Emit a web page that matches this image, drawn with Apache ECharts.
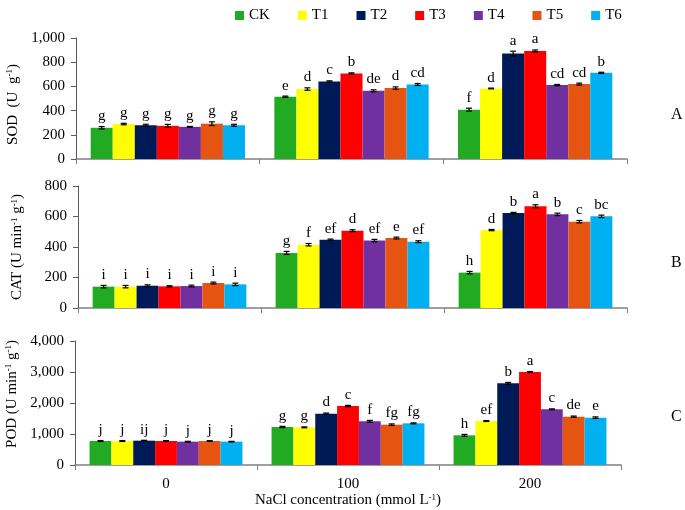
<!DOCTYPE html>
<html>
<head>
<meta charset="utf-8">
<script src="https://cdn.jsdelivr.net/npm/echarts@6/dist/echarts.min.js"></script>
<style>
    html, body { margin: 0; padding: 0; background: #fff; }
    #main { width: 685px; height: 510px; }
</style>
</head>
<body>
<div id="main"></div>
<script>
const categories = ['0', '100', '200']
const treatments = ['CK', 'T1', 'T2', 'T3', 'T4', 'T5', 'T6']
const colors = ['#22AA22', '#FFFF00', '#001A57', '#FF0000', '#7030A0', '#E65412', '#00B0F0']

// values per treatment, at NaCl 0 / 100 / 200
const sodMean = [[258, 515, 408], [289, 578, 583], [279, 641, 871], [274, 707, 893], [266, 564, 611], [292, 586, 619], [279, 616, 712]]
const sodErr = [[10, 5, 12], [6, 10, 3], [8, 5, 20], [12, 5, 8], [3, 8, 5], [15, 10, 8], [8, 8, 5]]
const sodLetters = [['g', 'e', 'f'], ['g', 'd', 'd'], ['g', 'c', 'a'], ['g', 'b', 'a'], ['g', 'de', 'cd'], ['g', 'd', 'cd'], ['g', 'cd', 'b']]

const catMean = [[140, 361, 232], [140, 415, 511], [146, 448, 623], [142, 507, 667], [144, 442, 614], [164, 459, 566], [155, 435, 601]]
const catErr = [[8, 10, 8], [8, 8, 4], [6, 4, 4], [4, 6, 10], [6, 8, 8], [6, 6, 8], [8, 6, 8]]
const catLetters = [['i', 'g', 'h'], ['i', 'f', 'd'], ['i', 'ef', 'b'], ['i', 'd', 'a'], ['i', 'ef', 'b'], ['i', 'e', 'c'], ['i', 'ef', 'bc']]

const podMean = [[774, 1226, 957], [774, 1215, 1419], [785, 1656, 2634], [774, 1903, 3000], [753, 1409, 1796], [774, 1301, 1559], [753, 1344, 1527]]
const podErr = [[15, 20, 30], [15, 15, 15], [12, 20, 30], [12, 20, 15], [12, 30, 15], [10, 25, 20], [10, 15, 25]]
const podLetters = [['j', 'g', 'h'], ['j', 'g', 'ef'], ['ij', 'd', 'b'], ['j', 'c', 'a'], ['j', 'f', 'c'], ['j', 'fg', 'de'], ['j', 'fg', 'e']]

const FONT = '"Liberation Serif", "Times New Roman", serif'
const CAT_GAP = 0.16

const myChart = echarts.init(document.getElementById('main'))

function barSeries(gi, means) {
    return treatments.map((name, ti) => ({
        name: name,
        type: 'bar',
        xAxisIndex: gi,
        yAxisIndex: gi,
        barGap: '0%',
        barCategoryGap: CAT_GAP * 100 + '%',
        itemStyle: { color: colors[ti] },
        data: means[ti]
    }))
}

function errorSeries(gi, means, errs, letters) {
    let items = []
    let meta = []
    means.forEach((row, ti) => {
        row.forEach((v, ci) => {
            items.push([ci, v, errs[ti][ci]])
            meta.push({ ti: ti, text: letters[ti][ci] })
        })
    })
    return {
        type: 'custom',
        xAxisIndex: gi,
        yAxisIndex: gi,
        z: 10,
        silent: true,
        data: items,
        encode: { x: 0, y: 1 },
        renderItem: function (params, api) {
            const m = meta[params.dataIndex]
            const ci = api.value(0), v = api.value(1), e = api.value(2)
            const band = api.size([1, 0])[0]
            const groupW = band * (1 - CAT_GAP)
            const barW = groupW / 7
            const c = api.coord([ci, v])
            const x = c[0] - groupW / 2 + barW * (m.ti + 0.5)
            const top = api.coord([ci, v + e])[1]
            const bot = api.coord([ci, v - e])[1]
            const cap = 3
            const st = { stroke: '#000', lineWidth: 1.2 }
            return {
                type: 'group',
                children: [
                    { type: 'line', shape: { x1: x, y1: top, x2: x, y2: bot }, style: st },
                    { type: 'line', shape: { x1: x - cap, y1: top, x2: x + cap, y2: top }, style: st },
                    { type: 'line', shape: { x1: x - cap, y1: bot, x2: x + cap, y2: bot }, style: st },
                    {
                        type: 'text',
                        style: {
                            text: m.text, x: x, y: top - 3,
                            align: 'center', verticalAlign: 'bottom',
                            font: '15px ' + FONT, fill: '#000'
                        }
                    }
                ]
            }
        }
    }
}

const supRich = {
    sup: { fontSize: 9, fontFamily: FONT, color: '#000', verticalAlign: 'top', padding: [0, 0, 6, 0] }
}

function xAxis(gi, showLabel) {
    return {
        type: 'category',
        gridIndex: gi,
        data: categories,
        axisLine: { lineStyle: { color: '#808080', width: 1.5 } },
        axisTick: { show: true, length: 5, lineStyle: { color: '#808080' } },
        axisLabel: { show: showLabel, color: '#000', fontFamily: FONT, fontSize: 15, margin: 12 },
        name: showLabel ? 'NaCl concentration (mmol L{sup|-1})' : '',
        nameLocation: 'middle',
        nameGap: 28,
        nameTextStyle: { color: '#000', fontFamily: FONT, fontSize: 15, rich: supRich }
    }
}

function yAxis(gi, max, interval, name, pad) {
    return {
        type: 'value',
        gridIndex: gi,
        min: 0,
        max: max,
        interval: interval,
        splitLine: { show: false },
        axisLine: { show: true, lineStyle: { color: '#595959' } },
        axisTick: { show: true, length: 5, lineStyle: { color: '#595959' } },
        axisLabel: {
            color: '#000', fontFamily: FONT, fontSize: 15, margin: 11,
            formatter: val => val.toLocaleString('en-US')
        },
        name: name,
        nameLocation: 'middle',
        nameGap: 53,
        nameTextStyle: { color: '#000', fontFamily: FONT, fontSize: 15, rich: supRich, padding: pad }
    }
}

const option = {
    animation: false,
    backgroundColor: '#fff',
    legend: {
        top: 3,
        left: 230,
        itemWidth: 9,
        itemHeight: 9,
        itemGap: 28,
        icon: 'rect',
        data: treatments,
        textStyle: { color: '#000', fontFamily: FONT, fontSize: 15 }
    },
    grid: [
        { left: 76, right: 58, top: 38, height: 121, outerBoundsMode: 'none' },
        { left: 78, right: 58, top: 186, height: 122, outerBoundsMode: 'none' },
        { left: 75, right: 64, top: 341, height: 124, outerBoundsMode: 'none' }
    ],
    xAxis: [xAxis(0, false), xAxis(1, false), xAxis(2, true)],
    yAxis: [
        yAxis(0, 1000, 200, 'SOD  (U  g{sup|-1})', [0, 12, 0, 0]),
        yAxis(1, 800, 200, 'CAT (U min{sup|-1} g{sup|-1})', [0, 0, 0, 0]),
        yAxis(2, 4000, 1000, 'POD (U min{sup|-1} g{sup|-1})', [0, 0, 0, 18])
    ],
    graphic: [
        { type: 'text', left: 671, top: 107, style: { text: 'A', font: '16px ' + FONT, fill: '#000' } },
        { type: 'text', left: 671, top: 255, style: { text: 'B', font: '16px ' + FONT, fill: '#000' } },
        { type: 'text', left: 671, top: 409, style: { text: 'C', font: '16px ' + FONT, fill: '#000' } }
    ],
    series: [
        ...barSeries(0, sodMean),
        ...barSeries(1, catMean),
        ...barSeries(2, podMean),
        errorSeries(0, sodMean, sodErr, sodLetters),
        errorSeries(1, catMean, catErr, catLetters),
        errorSeries(2, podMean, podErr, podLetters)
    ]
}

myChart.setOption(option)
</script>
</body>
</html>
